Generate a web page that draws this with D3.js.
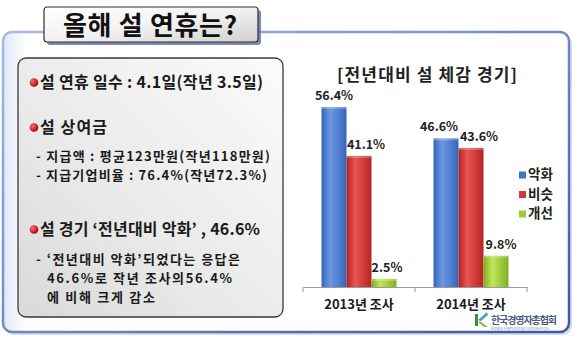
<!DOCTYPE html>
<html><head><meta charset="utf-8">
<script src="https://cdn.jsdelivr.net/npm/d3@7"></script>
<style>
html,body{margin:0;padding:0;background:#fff;}
svg{display:block;font-family:"Noto Sans CJK KR","Noto Sans",sans-serif;}
</style></head>
<body>
<svg id="c" width="580" height="346"></svg>
<script>
const categories = ["2013년 조사", "2014년 조사"];
const seriesNames = ["악화", "비슷", "개선"];
const worse = [56.4, 46.6];
const similar = [41.1, 43.6];
const better = [2.5, 9.8];
const chartTitle = "[전년대비 설 체감 경기]";
const pageTitle = "올해 설 연휴는?";
const bulletLines = [
  {t:"설 연휴 일수 : 4.1일(작년 3.5일)", bullet:true},
  {t:"설 상여금", bullet:true},
  {t:"- 지급액 : 평균123만원(작년118만원)", bullet:false},
  {t:"- 지급기업비율 : 76.4%(작년72.3%)", bullet:false},
  {t:"설 경기 ‘전년대비 악화’ , 46.6%", bullet:true},
  {t:"- ‘전년대비 악화’되었다는 응답은", bullet:false},
  {t:"46.6%로 작년 조사의56.4%", bullet:false},
  {t:"에 비해 크게 감소", bullet:false}
];
const seriesValues = [worse, similar, better];

const svg = d3.select("#c");
const defs = svg.append("defs");

function lg(id, stops, x1, y1, x2, y2){
  const g = defs.append("linearGradient").attr("id", id)
    .attr("x1", x1).attr("y1", y1).attr("x2", x2).attr("y2", y2);
  stops.forEach(s => g.append("stop").attr("offset", s[0]).attr("stop-color", s[1]));
}
lg("frameFill", [[0,"#dfe6f7"],[0.04,"#ffffff"],[1,"#ffffff"]], "0","0","1","0");
lg("frameStroke", [[0,"#aab8e6"],[1,"#3d55a8"]], "0","0","1","1");
lg("boxFill", [[0,"#fbfbfb"],[0.6,"#e9e9e9"],[1,"#d9d9d9"]], "1","0","0","1");
lg("tabFill", [[0,"#ffffff"],[0.5,"#f2f2f2"],[1,"#cfcfcf"]], "0","0","1","1");
lg("g0", [[0,"#3465b8"],[0.35,"#6a9ae2"],[1,"#3565bb"]], "0","0","1","0");
lg("g1", [[0,"#b42020"],[0.35,"#e85454"],[1,"#b82424"]], "0","0","1","0");
lg("g2", [[0,"#7fae1e"],[0.35,"#bfe65a"],[1,"#82b022"]], "0","0","1","0");
const rg = defs.append("radialGradient").attr("id","dot").attr("cx","0.35").attr("cy","0.35").attr("r","0.7");
rg.append("stop").attr("offset",0).attr("stop-color","#ff6a6a");
rg.append("stop").attr("offset",1).attr("stop-color","#a80000");
const colors = ["#3f74c8", "#d23a3a", "#9acb3a"];

// outer frame shadow + frame
svg.append("rect").attr("x",5).attr("y",35).attr("width",567).attr("height",300).attr("rx",9)
  .attr("fill","#c7cfe4").attr("opacity",0.7);
svg.append("rect").attr("x",3).attr("y",32).attr("width",566).attr("height",300).attr("rx",9)
  .attr("fill","url(#frameFill)").attr("stroke","url(#frameStroke)").attr("stroke-width",2.5);

// title tab
svg.append("rect").attr("x",47).attr("y",10).attr("width",214).attr("height",35).attr("rx",3)
  .attr("fill","#5b6aa8").attr("opacity",0.8);
svg.append("rect").attr("x",44).attr("y",7).attr("width",214).attr("height",35).attr("rx",3)
  .attr("fill","url(#tabFill)").attr("stroke","#333").attr("stroke-width",1.2);
svg.append("text").attr("x",63).attr("y",35)
  .attr("font-size",26).attr("font-weight",700).attr("fill","#111")
  .attr("textLength",174).attr("lengthAdjust","spacing").text(pageTitle);

// left box
svg.append("rect").attr("x",18).attr("y",58).attr("width",265).attr("height",259).attr("rx",8)
  .attr("fill","url(#boxFill)").attr("stroke","#3a3a3a").attr("stroke-width",1.3);

const lineY = [88, 133, 161, 180, 235, 264, 283, 302];
const lineX = [40, 40, 36, 36, 40, 36, 47, 47];
const lineW = [223, 67, 234, 231, 220, 204, 185, 108];
const lineSize = [16, 16, 13, 13, 16, 13, 13, 13];
bulletLines.forEach((d,i) => {
  if (d.bullet) {
    svg.append("circle").attr("cx",lineX[i]-6).attr("cy",lineY[i]-5.5).attr("r",4.3).attr("fill","url(#dot)");
  }
  svg.append("text").attr("x",lineX[i]).attr("y",lineY[i]).attr("font-size",lineSize[i])
    .attr("font-weight",700).attr("fill","#1a1a1a")
    .attr("textLength",lineW[i]).attr("lengthAdjust","spacing").text(d.t);
});

// chart
const baseY = 287;
const x0 = d3.scaleBand().domain(categories).range([303, 527]).padding(0);
const x1 = d3.scaleBand().domain(seriesNames).range([18.5, 93.5]).padding(0);
const y = d3.scaleLinear().domain([0, 60]).range([baseY, baseY - 60*3.19]);

svg.append("text").attr("x",337).attr("y",81)
  .attr("font-size",17).attr("font-weight",700).attr("fill","#222")
  .attr("textLength",180).attr("lengthAdjust","spacing").text(chartTitle);

// label nudges (px) per series per category, as in the reference
const labelDx = [[0, -7], [7, 8], [3, 5]];

const groups = svg.append("g").selectAll("g").data(categories).join("g")
  .attr("transform", d => `translate(${x0(d)},0)`);
seriesNames.forEach((s, si) => {
  groups.append("rect")
    .attr("x", x1(s)).attr("width", x1.bandwidth())
    .attr("y", (d,ci) => y(seriesValues[si][ci]))
    .attr("height", (d,ci) => baseY - y(seriesValues[si][ci]))
    .attr("fill", `url(#g${si})`);
  groups.append("rect")
    .attr("x", x1(s)).attr("width", x1.bandwidth())
    .attr("y", (d,ci) => y(seriesValues[si][ci]))
    .attr("height", 2).attr("fill", "#fff").attr("opacity",0.25);
  groups.append("text")
    .attr("x", (d,ci) => x1(s) + x1.bandwidth()/2 + labelDx[si][ci])
    .attr("y", (d,ci) => y(seriesValues[si][ci]) - 7)
    .attr("text-anchor","middle").attr("font-size",12.5).attr("font-weight",700).attr("fill","#222")
    .text((d,ci) => seriesValues[si][ci].toFixed(1) + "%");
});

// axis
const axis = d3.axisBottom(x0).tickSize(0).tickPadding(13);
const ax = svg.append("g").attr("transform",`translate(0,${baseY})`).call(axis);
ax.select(".domain").attr("stroke","#9a9a9a");
ax.selectAll("text").attr("font-size",13).attr("font-weight",700).attr("fill","#1a1a1a")
  .attr("font-family","'Noto Sans CJK KR',sans-serif");
[303, 415, 527].forEach(tx => svg.append("line").attr("x1",tx).attr("x2",tx)
  .attr("y1",baseY).attr("y2",baseY+5).attr("stroke","#9a9a9a"));

// legend
const leg = svg.append("g").selectAll("g").data(seriesNames).join("g")
  .attr("transform",(d,i) => `translate(519,${179 + i*19.5})`);
leg.append("rect").attr("x",0).attr("y",-7.5).attr("width",7).attr("height",7)
  .attr("fill",(d,i) => colors[i]);
leg.append("text").attr("x",9).attr("y",0).attr("font-size",13.5).attr("font-weight",700)
  .attr("fill","#222").text(d => d);

// logo
const logo = svg.append("g").attr("transform","translate(475,312)");
logo.append("path").attr("d","M0,2 L3,2 L3,14 L0,14 Z").attr("fill","#3a8f3a");
logo.append("path").attr("d","M3,8 L12,0 L13,3 L6,9 Z").attr("fill","#4aa3c8");
logo.append("path").attr("d","M5,9 L13,15 L9,15 L3,10 Z").attr("fill","#8bc34a");
svg.append("text").attr("x",491).attr("y",324).attr("font-size",10).attr("font-weight",700)
  .attr("fill","#4a5a7a").attr("textLength",66).attr("lengthAdjust","spacing").text("한국경영자총협회");
svg.append("text").attr("x",491).attr("y",330).attr("font-size",3.8)
  .attr("fill","#8090a0").text("KOREA EMPLOYERS FEDERATION");
</script>
</body></html>
